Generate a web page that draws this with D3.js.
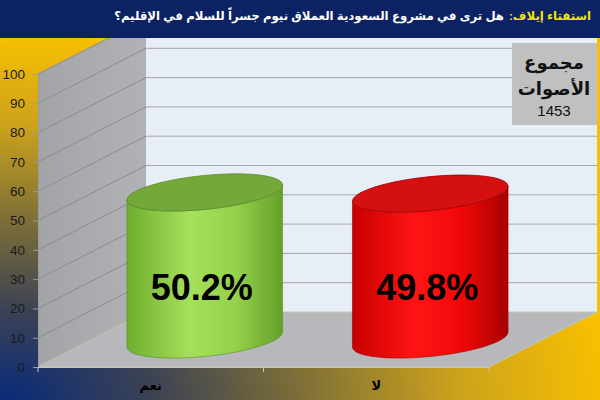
<!DOCTYPE html>
<html>
<head>
<meta charset="utf-8">
<script src="https://cdn.jsdelivr.net/npm/d3@7/dist/d3.min.js"></script>
<style>
  body { margin: 0; padding: 0; overflow: hidden; }
  svg { display: block; }
  text { font-family: Arial, "Liberation Sans", "DejaVu Sans", sans-serif; }
</style>
</head>
<body>
<div id="chart"></div>
<script>
var width = 600, height = 400;

// data
var categories = ["نعم", "لا"];
var values = [50.2, 49.8];
var valueLabels = ["50.2%", "49.8%"];
var yTickValues = [0, 10, 20, 30, 40, 50, 60, 70, 80, 90, 100];
var titleLead = "استفتاء إيلاف:";
var titleRest = "هل ترى في مشروع السعودية العملاق نيوم جسراً للسلام في الإقليم؟";
var boxLines = ["مجموع", "الأصوات", "1453"];

var svg = d3.select("#chart")
  .append("svg")
  .attr("width", width)
  .attr("height", height);

var defs = svg.append("defs");

// background: navy in the bottom-left corner, going out to gold
var bg = defs.append("radialGradient")
  .attr("id", "bg")
  .attr("gradientUnits", "userSpaceOnUse")
  .attr("cx", 0).attr("cy", 400).attr("r", 610)
  .attr("gradientTransform", "translate(0,400) scale(1,0.6) translate(0,-400)");
[[0, "#082a7a"], [0.25, "#3c4254"], [0.52, "#857434"], [0.75, "#cca21c"], [1, "#f8c000"]]
  .forEach(function(s){ bg.append("stop").attr("offset", s[0]).attr("stop-color", s[1]); });

function hGrad(id, stops){
  var g = defs.append("linearGradient").attr("id", id)
    .attr("x1", 0).attr("x2", 1).attr("y1", 0).attr("y2", 0);
  stops.forEach(function(s){ g.append("stop").attr("offset", s[0]).attr("stop-color", s[1]); });
}
hGrad("green", [[0, "#6fae2e"], [0.4, "#a6e05c"], [0.7, "#94d24a"], [1, "#64a028"]]);
hGrad("red", [[0, "#c80000"], [0.4, "#ff1414"], [0.7, "#f00808"], [1, "#a80000"]]);
hGrad("side", [[0, "#a2a4a8"], [1, "#b0b2b6"]]);

var bodyFill = ["url(#green)", "url(#red)"];
var topFill = ["#74a838", "#d41010"];
var edge = ["#5a8a2a", "#a00000"];

svg.append("rect").attr("width", width).attr("height", height).attr("fill", "url(#bg)");

// 3d frame
var dx = 108, dy = -55;
var x = d3.scaleBand().domain(categories).range([38, 489]);
var y = d3.scaleLinear().domain([0, 100]).range([367, 74]);

// back wall
svg.append("rect")
  .attr("x", x.range()[0] + dx).attr("y", y(100) + dy)
  .attr("width", x.range()[1] - x.range()[0]).attr("height", y(0) - y(100))
  .attr("fill", "#e8eef6");

// side wall
svg.append("polygon")
  .attr("points", [[38, y(0)], [38, y(100)], [38 + dx, y(100) + dy], [38 + dx, y(0) + dy]].join(" "))
  .attr("fill", "url(#side)");

// floor
svg.append("polygon")
  .attr("points", [[x.range()[0], y(0)], [x.range()[1], y(0)], [x.range()[1] + dx, y(0) + dy], [x.range()[0] + dx, y(0) + dy]].join(" "))
  .attr("fill", "#b6b8bc")
  .attr("stroke", "#c8c8b0")
  .attr("stroke-width", 1);

// gridlines
var grid = svg.append("g");
yTickValues.filter(function(v){ return v > 0; }).forEach(function(v){
  grid.append("line")
    .attr("x1", 38).attr("y1", y(v)).attr("x2", 38 + dx).attr("y2", y(v) + dy)
    .attr("stroke", "#8a8c90").attr("stroke-width", 1);
  grid.append("line")
    .attr("x1", 38 + dx).attr("y1", y(v) + dy).attr("x2", x.range()[1] + dx).attr("y2", y(v) + dy)
    .attr("stroke", "#a4a6aa").attr("stroke-width", 1);
});

// y axis
var yAxis = svg.append("g")
  .attr("transform", "translate(38,0)")
  .call(d3.axisLeft(y).tickValues(yTickValues).tickSize(5).tickPadding(8));
yAxis.select(".domain").attr("stroke", "#9a9a9a");
yAxis.selectAll(".tick line").attr("stroke", "#9a9a9a");
yAxis.selectAll("text").attr("font-size", 13.5).attr("fill", "#1a1a1a")
  .style("font-family", "Arial, 'Liberation Sans', sans-serif");

// x axis
var xAxis = svg.append("g")
  .attr("transform", "translate(0," + y(0) + ")")
  .call(d3.axisBottom(x).tickSize(0).tickPadding(14));
xAxis.select(".domain").attr("stroke", "#c8c8b0");
xAxis.selectAll("text").attr("font-size", 13).attr("font-weight", "bold").attr("fill", "#000");
[x.range()[0], x.range()[0] + x.step(), x.range()[1]].forEach(function(p){
  svg.append("line").attr("x1", p).attr("x2", p).attr("y1", y(0)).attr("y2", y(0) + 5)
    .attr("stroke", "#c8c8b0");
});

// cylinders
var rx = x.bandwidth() * 0.345, ry = 17, shear = 7.5;
function ept(cx, cy, t){
  return [cx + rx * Math.cos(t), cy - shear * Math.cos(t) + ry * Math.sin(t)];
}
function arc(cx, cy, t0, t1){
  return d3.range(0, 41).map(function(i){ return ept(cx, cy, t0 + (t1 - t0) * i / 40); });
}

categories.forEach(function(c, i){
  var cx = x(c) + x.bandwidth() / 2 + dx / 2;
  var cb = y(0) + dy / 2;
  var ct = y(values[i]) + dy / 2;
  var pts = [ept(cx, ct, Math.PI)]
    .concat(arc(cx, cb, Math.PI, 0))
    .concat(arc(cx, ct, 0, Math.PI));
  svg.append("path")
    .attr("d", d3.line()(pts) + "Z")
    .attr("fill", bodyFill[i])
    .attr("stroke", edge[i]).attr("stroke-width", 0.6);
  svg.append("path")
    .attr("d", d3.line()(arc(cx, ct, 0, 2 * Math.PI)) + "Z")
    .attr("fill", topFill[i])
    .attr("stroke", edge[i]).attr("stroke-width", 0.8);
  svg.append("text")
    .attr("x", cx - 3).attr("y", cb - 40)
    .attr("text-anchor", "middle")
    .attr("font-size", 36).attr("font-weight", "bold").attr("fill", "#000")
    .text(valueLabels[i]);
});

// total votes box
svg.append("rect")
  .attr("x", 512).attr("y", 43).attr("width", 85).attr("height", 82)
  .attr("fill", "#c0c0c0");
svg.append("text").attr("x", 554).attr("y", 69).attr("text-anchor", "middle")
  .attr("font-size", 18).attr("font-weight", "bold").attr("fill", "#111").text(boxLines[0]);
svg.append("text").attr("x", 554).attr("y", 95).attr("text-anchor", "middle")
  .attr("font-size", 18).attr("font-weight", "bold").attr("fill", "#111").text(boxLines[1]);
svg.append("text").attr("x", 554).attr("y", 116).attr("text-anchor", "middle")
  .attr("font-size", 15).attr("fill", "#111").text(boxLines[2]);

// title bar: two rtl runs, placed from the right edge by measuring them
svg.append("rect").attr("width", width).attr("height", 38).attr("fill", "#0c2262");
var titleRight = 591, titleLeft = 115, gap = 5;
var lead = svg.append("text").attr("direction", "rtl").attr("y", 20)
  .attr("font-size", 15).attr("font-weight", "bold").attr("fill", "#f2e600").text(titleLead);
var rest = svg.append("text").attr("direction", "rtl").attr("y", 20)
  .attr("font-size", 15).attr("font-weight", "bold").attr("fill", "#ffffff").text(titleRest);
var total = lead.node().getBBox().width + gap + rest.node().getBBox().width;
var fs = 15 * (titleRight - titleLeft) / total;
lead.attr("font-size", fs);
rest.attr("font-size", fs);
function placeRight(sel, right){
  sel.attr("x", 0);
  var b = sel.node().getBBox();
  sel.attr("x", right - (b.x + b.width));
  return sel.node().getBBox().width;
}
var lw = placeRight(lead, titleRight);
placeRight(rest, titleRight - lw - gap);
</script>
</body>
</html>
